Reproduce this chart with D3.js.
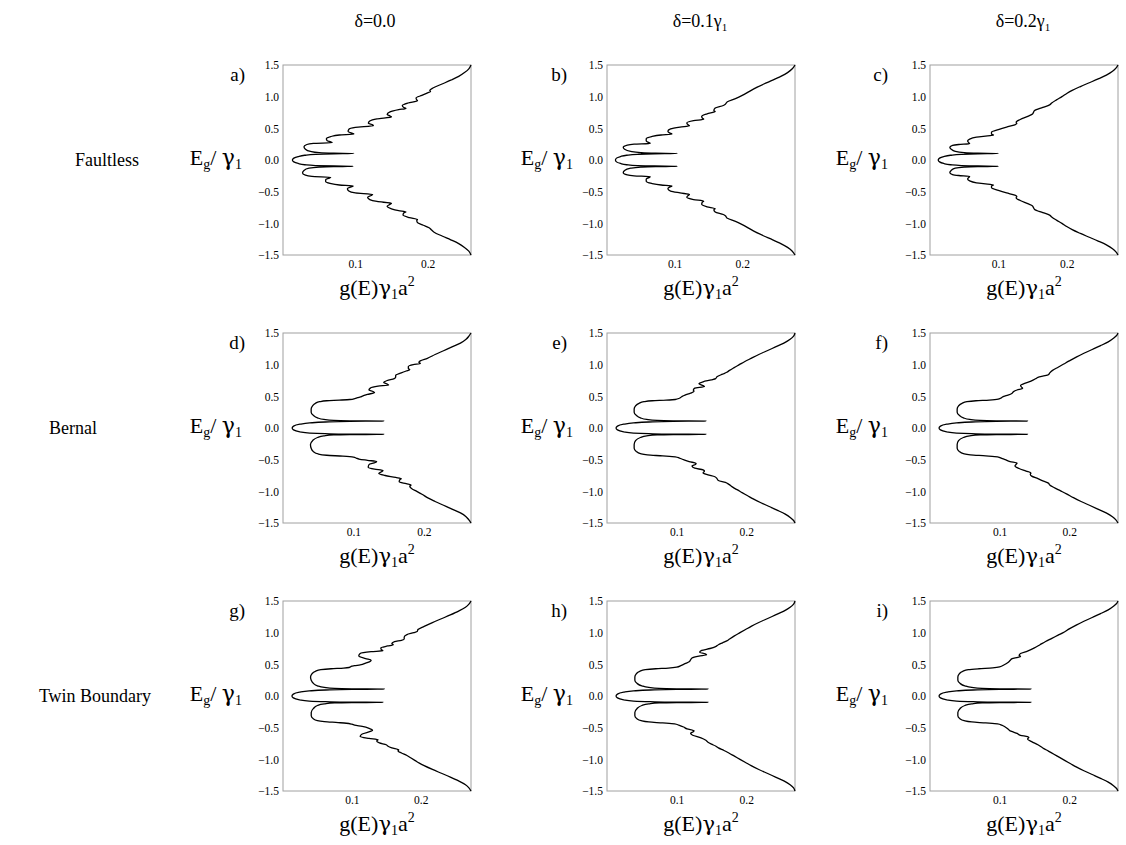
<!DOCTYPE html>
<html>
<head>
<meta charset="utf-8">
<script src="https://cdnjs.cloudflare.com/ajax/libs/d3/7.8.5/d3.min.js"></script>
<style>
  body { margin: 0; background: #fff; }
  text { font-family: "Liberation Serif", "Times New Roman", serif; fill: #000; }
  .greek { font-family: "DejaVu Serif", serif; }
</style>
</head>
<body>
<script>
// labels
var colTitles = [["δ=0.0", ""], ["δ=0.1γ", "1"], ["δ=0.2γ", "1"]];
var rowTitles = ["Faultless", "Bernal", "Twin Boundary"];
var letters = ["a)", "b)", "c)", "d)", "e)", "f)", "g)", "h)", "i)"];
var yTicks = [-1.5, -1.0, -0.5, 0.0, 0.5, 1.0, 1.5];
var xTicks = [0.1, 0.2];
var xMax = [0.26, 0.278, 0.275, 0.267, 0.27, 0.27, 0.273, 0.27, 0.27];

// curves: [E, g], E >= 0 half and E <= 0 half (|E|)
var aUp = [[0,0.013],[0.03,0.015],[0.055,0.021],[0.075,0.03],[0.09,0.045],[0.098,0.07],[0.103,0.098],[0.107,0.07],[0.115,0.05],[0.135,0.038],[0.17,0.031],[0.21,0.029],[0.245,0.033],[0.262,0.042],[0.272,0.068],[0.285,0.066],[0.305,0.061],[0.335,0.06],[0.37,0.066],[0.395,0.078],[0.41,0.098],[0.425,0.095],[0.45,0.09],[0.485,0.091],[0.515,0.1],[0.54,0.125],[0.555,0.124],[0.58,0.118],[0.615,0.12],[0.65,0.13],[0.68,0.15],[0.695,0.148],[0.72,0.144],[0.76,0.148],[0.795,0.16],[0.815,0.17],[0.83,0.167],[0.86,0.165],[0.9,0.173],[0.935,0.186],[0.95,0.185],[0.98,0.184],[1.02,0.192],[1.06,0.2],[1.08,0.204],[1.1,0.203],[1.14,0.208],[1.2,0.22],[1.26,0.232],[1.32,0.243],[1.38,0.251],[1.44,0.257],[1.5,0.26]];
var aDown = [[0,0.013],[0.03,0.015],[0.055,0.021],[0.075,0.03],[0.088,0.045],[0.095,0.07],[0.1,0.097],[0.104,0.07],[0.112,0.05],[0.13,0.036],[0.165,0.029],[0.205,0.027],[0.24,0.031],[0.26,0.04],[0.272,0.066],[0.285,0.064],[0.31,0.059],[0.34,0.059],[0.37,0.065],[0.395,0.078],[0.41,0.097],[0.425,0.094],[0.455,0.089],[0.49,0.091],[0.52,0.1],[0.545,0.124],[0.56,0.122],[0.59,0.117],[0.625,0.12],[0.655,0.13],[0.685,0.15],[0.7,0.148],[0.73,0.144],[0.77,0.15],[0.8,0.16],[0.82,0.17],[0.835,0.167],[0.87,0.166],[0.91,0.175],[0.94,0.186],[0.955,0.185],[0.99,0.186],[1.03,0.194],[1.07,0.202],[1.1,0.205],[1.14,0.209],[1.2,0.22],[1.26,0.232],[1.32,0.243],[1.38,0.251],[1.44,0.257],[1.5,0.26]];

var bUp = [[0,0.0125],[0.03,0.014],[0.055,0.02],[0.075,0.029],[0.09,0.045],[0.098,0.07],[0.103,0.104],[0.107,0.072],[0.115,0.05],[0.135,0.035],[0.17,0.026],[0.2,0.024],[0.235,0.03],[0.25,0.04],[0.262,0.064],[0.275,0.062],[0.3,0.058],[0.335,0.058],[0.37,0.066],[0.395,0.08],[0.41,0.096],[0.425,0.093],[0.455,0.09],[0.49,0.094],[0.52,0.108],[0.54,0.122],[0.555,0.12],[0.585,0.118],[0.62,0.128],[0.645,0.143],[0.66,0.141],[0.69,0.14],[0.73,0.148],[0.765,0.16],[0.78,0.158],[0.82,0.16],[0.86,0.172],[0.88,0.175],[0.92,0.178],[0.97,0.19],[1.02,0.2],[1.08,0.21],[1.14,0.22],[1.2,0.232],[1.26,0.245],[1.32,0.257],[1.38,0.267],[1.44,0.274],[1.5,0.278]];
var bDown = [[0,0.0125],[0.03,0.014],[0.055,0.02],[0.075,0.029],[0.088,0.045],[0.095,0.07],[0.1,0.104],[0.104,0.072],[0.112,0.05],[0.13,0.035],[0.165,0.026],[0.2,0.024],[0.235,0.03],[0.25,0.04],[0.265,0.064],[0.278,0.062],[0.3,0.058],[0.335,0.058],[0.37,0.066],[0.395,0.08],[0.41,0.096],[0.425,0.093],[0.455,0.09],[0.49,0.094],[0.52,0.108],[0.545,0.122],[0.56,0.12],[0.59,0.118],[0.625,0.128],[0.65,0.143],[0.665,0.141],[0.7,0.14],[0.74,0.148],[0.77,0.16],[0.785,0.158],[0.82,0.16],[0.86,0.172],[0.88,0.175],[0.92,0.178],[0.97,0.19],[1.02,0.2],[1.08,0.21],[1.14,0.22],[1.2,0.232],[1.26,0.245],[1.32,0.257],[1.38,0.267],[1.44,0.274],[1.5,0.278]];

var cUp = [[0,0.012],[0.03,0.014],[0.055,0.02],[0.075,0.03],[0.09,0.046],[0.098,0.07],[0.103,0.1],[0.107,0.07],[0.115,0.05],[0.135,0.037],[0.17,0.031],[0.2,0.029],[0.23,0.033],[0.245,0.042],[0.258,0.058],[0.27,0.057],[0.3,0.055],[0.33,0.058],[0.36,0.068],[0.385,0.088],[0.395,0.093],[0.41,0.09],[0.44,0.09],[0.48,0.1],[0.52,0.112],[0.555,0.124],[0.575,0.127],[0.6,0.126],[0.64,0.132],[0.69,0.143],[0.725,0.15],[0.745,0.151],[0.78,0.153],[0.83,0.165],[0.87,0.175],[0.9,0.178],[0.95,0.185],[1.0,0.193],[1.05,0.2],[1.1,0.208],[1.16,0.22],[1.22,0.233],[1.28,0.246],[1.34,0.258],[1.4,0.267],[1.45,0.272],[1.5,0.275]];
var cDown = [[0,0.012],[0.03,0.014],[0.055,0.02],[0.075,0.03],[0.088,0.046],[0.095,0.07],[0.1,0.1],[0.104,0.07],[0.112,0.05],[0.13,0.037],[0.165,0.031],[0.2,0.029],[0.23,0.033],[0.245,0.042],[0.26,0.058],[0.272,0.057],[0.3,0.055],[0.33,0.058],[0.36,0.068],[0.385,0.088],[0.395,0.093],[0.41,0.09],[0.44,0.09],[0.48,0.1],[0.52,0.112],[0.555,0.124],[0.575,0.127],[0.6,0.126],[0.64,0.132],[0.69,0.143],[0.725,0.15],[0.745,0.151],[0.78,0.153],[0.83,0.165],[0.87,0.175],[0.9,0.178],[0.95,0.185],[1.0,0.193],[1.05,0.2],[1.1,0.208],[1.16,0.22],[1.22,0.233],[1.28,0.246],[1.34,0.258],[1.4,0.267],[1.45,0.272],[1.5,0.275]];

var dUp = [[0,0.013],[0.03,0.015],[0.06,0.024],[0.08,0.038],[0.095,0.06],[0.105,0.095],[0.11,0.143],[0.114,0.095],[0.12,0.072],[0.135,0.058],[0.16,0.049],[0.2,0.043],[0.25,0.04],[0.3,0.04],[0.35,0.042],[0.39,0.046],[0.415,0.052],[0.43,0.062],[0.44,0.08],[0.45,0.095],[0.465,0.102],[0.48,0.106],[0.49,0.11],[0.5,0.112],[0.53,0.12],[0.56,0.13],[0.575,0.128],[0.6,0.122],[0.63,0.124],[0.66,0.135],[0.68,0.15],[0.695,0.148],[0.72,0.143],[0.75,0.148],[0.78,0.158],[0.8,0.16],[0.83,0.16],[0.87,0.168],[0.9,0.175],[0.92,0.18],[0.94,0.178],[0.97,0.178],[1.0,0.185],[1.02,0.195],[1.035,0.193],[1.06,0.195],[1.1,0.205],[1.16,0.216],[1.22,0.228],[1.28,0.24],[1.34,0.252],[1.4,0.26],[1.45,0.264],[1.5,0.267]];
var dDown = [[0,0.013],[0.03,0.015],[0.06,0.024],[0.08,0.038],[0.09,0.06],[0.097,0.095],[0.1,0.143],[0.104,0.095],[0.11,0.072],[0.125,0.058],[0.15,0.049],[0.2,0.042],[0.26,0.039],[0.32,0.04],[0.37,0.043],[0.41,0.05],[0.43,0.062],[0.445,0.085],[0.46,0.1],[0.475,0.104],[0.49,0.108],[0.51,0.12],[0.53,0.133],[0.545,0.131],[0.58,0.122],[0.62,0.121],[0.65,0.13],[0.67,0.142],[0.69,0.14],[0.72,0.136],[0.75,0.145],[0.78,0.16],[0.8,0.168],[0.815,0.166],[0.85,0.165],[0.88,0.175],[0.9,0.182],[0.92,0.18],[0.96,0.183],[1.0,0.19],[1.05,0.198],[1.1,0.205],[1.16,0.216],[1.22,0.228],[1.28,0.24],[1.34,0.252],[1.4,0.26],[1.45,0.264],[1.5,0.267]];

var eUp = [[0,0.013],[0.03,0.015],[0.06,0.024],[0.08,0.038],[0.095,0.06],[0.105,0.095],[0.11,0.142],[0.114,0.095],[0.12,0.072],[0.135,0.057],[0.16,0.048],[0.2,0.042],[0.25,0.039],[0.3,0.039],[0.35,0.041],[0.39,0.046],[0.415,0.053],[0.43,0.065],[0.44,0.085],[0.45,0.098],[0.47,0.104],[0.5,0.108],[0.52,0.112],[0.55,0.12],[0.58,0.125],[0.6,0.124],[0.63,0.126],[0.655,0.14],[0.67,0.138],[0.7,0.132],[0.73,0.138],[0.76,0.15],[0.78,0.156],[0.81,0.158],[0.85,0.166],[0.88,0.172],[0.91,0.176],[0.95,0.182],[1.0,0.19],[1.05,0.198],[1.1,0.207],[1.16,0.218],[1.22,0.23],[1.28,0.242],[1.34,0.254],[1.4,0.263],[1.45,0.268],[1.5,0.27]];
var eDown = [[0,0.013],[0.03,0.015],[0.06,0.024],[0.08,0.038],[0.09,0.06],[0.097,0.095],[0.1,0.142],[0.104,0.095],[0.11,0.072],[0.125,0.057],[0.15,0.048],[0.2,0.041],[0.26,0.039],[0.32,0.039],[0.37,0.042],[0.405,0.048],[0.425,0.058],[0.44,0.08],[0.455,0.098],[0.475,0.104],[0.5,0.11],[0.53,0.118],[0.56,0.128],[0.575,0.127],[0.6,0.122],[0.635,0.126],[0.66,0.138],[0.68,0.14],[0.71,0.138],[0.74,0.145],[0.77,0.155],[0.8,0.158],[0.83,0.16],[0.86,0.17],[0.89,0.175],[0.93,0.18],[0.97,0.186],[1.02,0.194],[1.07,0.202],[1.12,0.21],[1.18,0.221],[1.24,0.233],[1.3,0.245],[1.36,0.256],[1.42,0.264],[1.46,0.268],[1.5,0.27]];

var fUp = [[0,0.013],[0.03,0.015],[0.06,0.024],[0.08,0.038],[0.095,0.06],[0.105,0.095],[0.11,0.14],[0.114,0.095],[0.12,0.072],[0.135,0.057],[0.16,0.048],[0.2,0.042],[0.25,0.039],[0.3,0.039],[0.35,0.041],[0.39,0.046],[0.415,0.053],[0.43,0.066],[0.44,0.085],[0.455,0.098],[0.48,0.103],[0.5,0.106],[0.52,0.112],[0.55,0.118],[0.575,0.12],[0.6,0.125],[0.625,0.133],[0.64,0.132],[0.67,0.13],[0.7,0.135],[0.74,0.145],[0.78,0.152],[0.8,0.155],[0.82,0.162],[0.84,0.17],[0.87,0.172],[0.91,0.176],[0.96,0.184],[1.01,0.192],[1.06,0.2],[1.12,0.21],[1.18,0.221],[1.24,0.233],[1.3,0.245],[1.36,0.256],[1.42,0.264],[1.46,0.268],[1.5,0.27]];
var fDown = [[0,0.013],[0.03,0.015],[0.06,0.024],[0.08,0.038],[0.09,0.06],[0.097,0.095],[0.1,0.14],[0.104,0.095],[0.11,0.072],[0.125,0.057],[0.15,0.048],[0.2,0.041],[0.26,0.039],[0.32,0.039],[0.37,0.042],[0.405,0.048],[0.425,0.058],[0.44,0.08],[0.455,0.097],[0.48,0.103],[0.5,0.108],[0.53,0.115],[0.555,0.125],[0.57,0.124],[0.6,0.122],[0.64,0.128],[0.68,0.138],[0.71,0.145],[0.73,0.144],[0.76,0.146],[0.8,0.155],[0.84,0.163],[0.87,0.17],[0.9,0.172],[0.94,0.178],[0.99,0.187],[1.04,0.196],[1.1,0.206],[1.16,0.217],[1.22,0.229],[1.28,0.241],[1.34,0.253],[1.4,0.262],[1.45,0.267],[1.5,0.27]];

var gUp = [[0,0.013],[0.03,0.015],[0.06,0.024],[0.08,0.038],[0.095,0.062],[0.105,0.1],[0.11,0.147],[0.114,0.1],[0.12,0.075],[0.135,0.06],[0.16,0.05],[0.2,0.044],[0.25,0.041],[0.3,0.04],[0.35,0.042],[0.39,0.047],[0.415,0.055],[0.43,0.07],[0.44,0.088],[0.45,0.096],[0.47,0.1],[0.48,0.104],[0.49,0.112],[0.52,0.12],[0.55,0.127],[0.565,0.128],[0.59,0.12],[0.63,0.11],[0.67,0.112],[0.7,0.128],[0.715,0.145],[0.73,0.143],[0.76,0.142],[0.79,0.152],[0.81,0.16],[0.83,0.158],[0.86,0.162],[0.88,0.172],[0.9,0.176],[0.93,0.176],[0.97,0.18],[1.0,0.19],[1.02,0.195],[1.05,0.196],[1.1,0.205],[1.16,0.217],[1.22,0.23],[1.28,0.243],[1.34,0.255],[1.4,0.265],[1.45,0.27],[1.5,0.273]];
var gDown = [[0,0.013],[0.03,0.015],[0.06,0.024],[0.08,0.038],[0.09,0.062],[0.097,0.1],[0.1,0.145],[0.104,0.1],[0.11,0.075],[0.125,0.06],[0.15,0.05],[0.2,0.044],[0.26,0.041],[0.31,0.041],[0.36,0.044],[0.39,0.05],[0.405,0.06],[0.42,0.08],[0.43,0.092],[0.445,0.1],[0.46,0.104],[0.48,0.115],[0.51,0.125],[0.54,0.13],[0.555,0.128],[0.6,0.115],[0.64,0.112],[0.67,0.125],[0.69,0.138],[0.71,0.136],[0.74,0.14],[0.77,0.15],[0.79,0.152],[0.82,0.158],[0.85,0.168],[0.87,0.167],[0.9,0.172],[0.94,0.18],[0.98,0.186],[1.02,0.192],[1.06,0.198],[1.1,0.205],[1.16,0.217],[1.22,0.23],[1.28,0.243],[1.34,0.255],[1.4,0.265],[1.45,0.27],[1.5,0.273]];

var hUp = [[0,0.013],[0.03,0.015],[0.06,0.024],[0.08,0.038],[0.095,0.062],[0.105,0.1],[0.11,0.145],[0.114,0.1],[0.12,0.075],[0.135,0.06],[0.16,0.05],[0.2,0.043],[0.25,0.04],[0.3,0.04],[0.35,0.042],[0.39,0.047],[0.415,0.055],[0.43,0.07],[0.44,0.088],[0.455,0.1],[0.48,0.106],[0.51,0.112],[0.54,0.118],[0.57,0.12],[0.6,0.122],[0.63,0.132],[0.65,0.143],[0.665,0.141],[0.69,0.133],[0.72,0.136],[0.75,0.148],[0.78,0.156],[0.81,0.16],[0.84,0.166],[0.87,0.172],[0.9,0.176],[0.95,0.183],[1.0,0.191],[1.05,0.199],[1.1,0.207],[1.16,0.218],[1.22,0.23],[1.28,0.242],[1.34,0.254],[1.4,0.263],[1.45,0.268],[1.5,0.27]];
var hDown = [[0,0.013],[0.03,0.015],[0.06,0.024],[0.08,0.038],[0.09,0.062],[0.097,0.1],[0.1,0.145],[0.104,0.1],[0.11,0.075],[0.125,0.06],[0.15,0.05],[0.2,0.043],[0.26,0.04],[0.31,0.04],[0.36,0.043],[0.39,0.049],[0.41,0.06],[0.425,0.08],[0.44,0.097],[0.46,0.103],[0.49,0.11],[0.52,0.115],[0.55,0.125],[0.565,0.124],[0.59,0.12],[0.62,0.123],[0.66,0.135],[0.7,0.142],[0.73,0.145],[0.76,0.15],[0.79,0.156],[0.82,0.16],[0.86,0.168],[0.9,0.175],[0.95,0.183],[1.0,0.191],[1.05,0.199],[1.1,0.207],[1.16,0.218],[1.22,0.23],[1.28,0.242],[1.34,0.254],[1.4,0.263],[1.45,0.268],[1.5,0.27]];

var iUp = [[0,0.013],[0.03,0.015],[0.06,0.024],[0.08,0.038],[0.095,0.062],[0.105,0.1],[0.11,0.145],[0.114,0.1],[0.12,0.075],[0.135,0.06],[0.16,0.05],[0.2,0.043],[0.25,0.04],[0.3,0.04],[0.35,0.042],[0.39,0.047],[0.415,0.055],[0.43,0.07],[0.445,0.09],[0.46,0.1],[0.49,0.106],[0.53,0.112],[0.56,0.115],[0.59,0.118],[0.61,0.126],[0.625,0.13],[0.64,0.128],[0.67,0.13],[0.71,0.14],[0.76,0.15],[0.81,0.158],[0.86,0.166],[0.91,0.175],[0.96,0.184],[1.01,0.193],[1.06,0.2],[1.12,0.21],[1.18,0.221],[1.24,0.233],[1.3,0.245],[1.36,0.256],[1.42,0.264],[1.46,0.268],[1.5,0.27]];
var iDown = [[0,0.013],[0.03,0.015],[0.06,0.024],[0.08,0.038],[0.09,0.062],[0.097,0.1],[0.1,0.145],[0.104,0.1],[0.11,0.075],[0.125,0.06],[0.15,0.05],[0.2,0.043],[0.26,0.04],[0.31,0.04],[0.36,0.043],[0.39,0.049],[0.41,0.06],[0.425,0.08],[0.44,0.097],[0.46,0.103],[0.49,0.108],[0.52,0.112],[0.55,0.115],[0.57,0.12],[0.59,0.125],[0.62,0.13],[0.64,0.14],[0.655,0.142],[0.68,0.14],[0.72,0.146],[0.77,0.155],[0.82,0.162],[0.87,0.17],[0.92,0.178],[0.97,0.186],[1.02,0.194],[1.07,0.202],[1.12,0.21],[1.18,0.221],[1.24,0.233],[1.3,0.245],[1.36,0.256],[1.42,0.264],[1.46,0.268],[1.5,0.27]];

var curves = [[aUp, aDown], [bUp, bDown], [cUp, cDown],
              [dUp, dDown], [eUp, eDown], [fUp, fDown],
              [gUp, gDown], [hUp, hDown], [iUp, iDown]];

// layout
var width = 1126, height = 845;
var colX = [283, 607, 930];
var rowY = [65, 333, 601];
var pw = 188, ph = 190;
var titleX = [375, 700, 1023];
var rowLabelX = [107, 73, 95];
var ylabGap = [41, 34, 42];
var letterGap = [38, 40, 42];

var svg = d3.select('body').append('svg')
  .attr('width', width)
  .attr('height', height);

// column titles
colTitles.forEach(function(t, c) {
  var tx = svg.append('text')
    .attr('x', titleX[c]).attr('y', 27)
    .attr('text-anchor', 'middle')
    .style('font-size', '18px')
    .text(t[0]);
  if (t[1]) tx.append('tspan').attr('dy', 4).style('font-size', '11px').text(t[1]);
});

// row titles
rowTitles.forEach(function(t, r) {
  svg.append('text')
    .attr('x', rowLabelX[r]).attr('y', rowY[r] + ph / 2 + 6)
    .attr('text-anchor', 'middle')
    .style('font-size', '18px')
    .text(t);
});

// join the two halves into one series from -1.5 to 1.5
function joinHalves(up, down) {
  var lo = down.slice(1).reverse().map(function(p) { return [-p[0], p[1]]; });
  return lo.concat(up);
}

var fmt = d3.format('.1f');

for (var k = 0; k < 9; k++) {
  var r = Math.floor(k / 3), c = k % 3;
  var g = svg.append('g').attr('transform', 'translate(' + colX[c] + ',' + rowY[r] + ')');

  var x = d3.scaleLinear().domain([0, xMax[k]]).range([0, pw]);
  var y = d3.scaleLinear().domain([-1.5, 1.5]).range([ph, 0]);

  // y ticks
  var ya = g.append('g').call(d3.axisLeft(y).tickValues(yTicks).tickSize(0).tickPadding(4).tickFormat(fmt));
  ya.select('.domain').remove();
  ya.selectAll('text').style('font-size', '11.5px').style('font-family', '"Liberation Serif", serif').attr('fill', '#222');

  // x ticks
  var xa = g.append('g').attr('transform', 'translate(0,' + ph + ')')
    .call(d3.axisBottom(x).tickValues(xTicks).tickSize(0).tickPadding(5).tickFormat(fmt));
  xa.select('.domain').remove();
  xa.selectAll('text').style('font-size', '11.5px').style('font-family', '"Liberation Serif", serif').attr('fill', '#222');

  // frame
  g.append('rect')
    .attr('x', 0).attr('y', 0).attr('width', pw).attr('height', ph)
    .attr('fill', 'none').attr('stroke', '#a0a0a0').attr('stroke-width', 1);

  // curve
  var line = d3.line()
    .x(function(d) { return x(d[1]); })
    .y(function(d) { return y(d[0]); })
    .curve(d3.curveMonotoneY);
  g.append('path')
    .datum(joinHalves(curves[k][0], curves[k][1]))
    .attr('d', line)
    .attr('fill', 'none')
    .attr('stroke', '#000')
    .attr('stroke-width', 1.3);

  // panel letter
  g.append('text')
    .attr('x', -letterGap[c]).attr('y', 16)
    .attr('text-anchor', 'end')
    .style('font-size', '19px')
    .text(letters[k]);

  // y label  E_g / gamma_1
  var yl = g.append('text')
    .attr('x', -ylabGap[c]).attr('y', ph / 2 + 5)
    .attr('text-anchor', 'end')
    .style('font-size', '22px');
  yl.append('tspan').text('E');
  yl.append('tspan').attr('dy', 4).style('font-size', '14px').text('g');
  yl.append('tspan').attr('dy', -4).text('/ ');
  yl.append('tspan').attr('class', 'greek').style('font-size', '22px').text('γ');
  yl.append('tspan').attr('dy', 4).style('font-size', '14px').text('1');

  // x label  g(E) gamma_1 a^2
  var xl = g.append('text')
    .attr('x', pw / 2).attr('y', ph + 40)
    .attr('text-anchor', 'middle')
    .style('font-size', '22px');
  xl.append('tspan').text('g(E)');
  xl.append('tspan').attr('class', 'greek').style('font-size', '21px').text('γ');
  xl.append('tspan').attr('dy', 4).style('font-size', '14px').text('1');
  xl.append('tspan').attr('dy', -4).text('a');
  xl.append('tspan').attr('dy', -9).style('font-size', '14px').text('2');
}
</script>
</body>
</html>
